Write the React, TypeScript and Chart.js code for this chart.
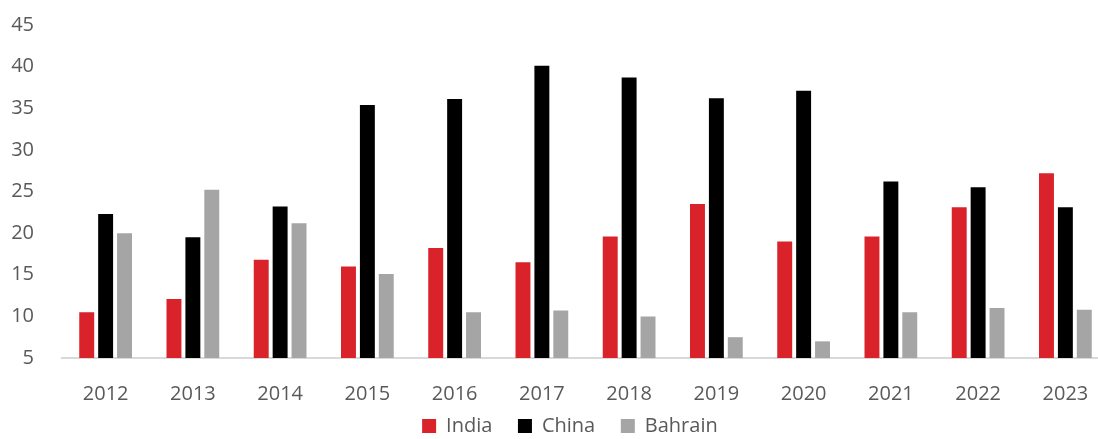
import React, { useEffect, useRef } from "react";
import { Chart, registerables } from "chart.js";

Chart.register(...registerables);

const years = ["2012", "2013", "2014", "2015", "2016", "2017", "2018", "2019", "2020", "2021", "2022", "2023"];
const india = [10.5, 12.1, 16.8, 16.0, 18.2, 16.5, 19.6, 23.5, 19.0, 19.6, 23.1, 27.2];
const china = [22.3, 19.5, 23.2, 35.4, 36.1, 40.1, 38.7, 36.2, 37.1, 26.2, 25.5, 23.1];
const bahrain = [20.0, 25.2, 21.2, 15.1, 10.5, 10.7, 10.0, 7.5, 7.0, 10.5, 11.0, 10.8];

export default function App() {
  const ref = useRef<HTMLCanvasElement | null>(null);
  useEffect(() => {
    if (!ref.current) return;
    const font = { family: "'Open Sans', sans-serif", size: 20 };
    const baseGen = Chart.defaults.plugins.legend.labels.generateLabels;
    const chart = new Chart(ref.current, {
      type: "bar",
      data: {
        labels: years,
        datasets: [
          { label: "India", data: india, backgroundColor: "#d9222a" },
          { label: "China", data: china, backgroundColor: "#000000" },
          { label: "Bahrain", data: bahrain, backgroundColor: "#a5a5a5" },
        ],
      },
      options: {
        animation: false,
        responsive: true,
        maintainAspectRatio: false,
        layout: { padding: { top: 25, right: 0, left: 0, bottom: 0 } },
        datasets: { bar: { categoryPercentage: 0.65, barPercentage: 0.79 } },
        plugins: {
          legend: {
            position: "bottom",
            fullSize: false,
            labels: {
              font,
              color: "#595959",
              boxWidth: 14,
              boxHeight: 14,
              padding: 10,
              generateLabels: (c: any) => {
                const items = baseGen(c);
                return items.map((it: any, i: number) =>
                  i < items.length - 1 ? { ...it, text: it.text + "   " } : { ...it, text: it.text + "      " }
                );
              },
            },
          },
          tooltip: { enabled: false },
        },
        scales: {
          x: {
            grid: { display: false },
            border: { display: true, color: "#d9d9d9", width: 2 },
            ticks: { font, color: "#595959", padding: 16 },
            afterFit: (s: any) => { s.height = 48; },
          },
          y: {
            min: 5,
            max: 45,
            grid: { display: false, tickLength: 28 },
            border: { display: false },
            ticks: { font, color: "#595959", stepSize: 5, padding: 0 },
            afterFit: (s: any) => { s.width = 62; },
          },
        },
      },
    });
    return () => chart.destroy();
  }, []);
  return (
    <div style={{ position: "fixed", left: 0, top: 0, width: 1098, height: 439, overflow: "hidden", background: "#fff" }}>
      <div style={{ position: "absolute", left: 0, top: 0, width: 1109, height: 446 }}>
        <canvas ref={ref} />
      </div>
    </div>
  );
}
